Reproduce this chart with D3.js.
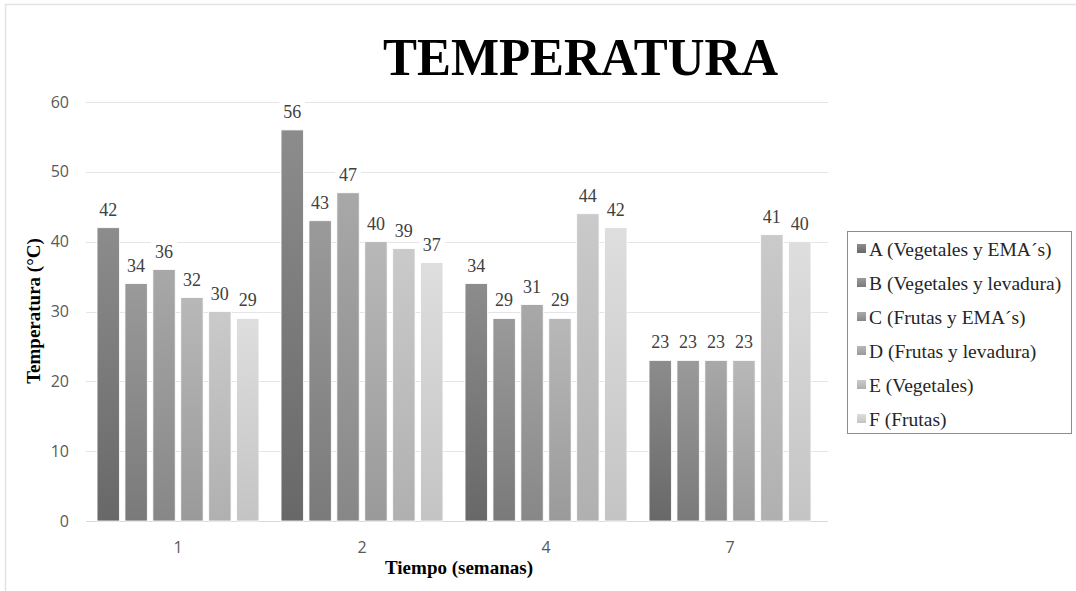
<!DOCTYPE html>
<html>
<head>
<meta charset="utf-8">
<script src="https://cdn.jsdelivr.net/npm/d3@7"></script>
<style>
  html, body { margin: 0; padding: 0; background: #fff; }
  svg { display: block; }
</style>
</head>
<body>
<svg id="chart" width="1076" height="591"></svg>
<script>
// Weeks on the x axis and the composting treatments shown as series
const weeks = ["1", "2", "4", "7"];
const seriesNames = [
  "A (Vegetales y EMA\u00B4s)",
  "B (Vegetales y levadura)",
  "C (Frutas y EMA\u00B4s)",
  "D (Frutas y levadura)",
  "E (Vegetales)",
  "F (Frutas)"
];
const seriesA = [42, 56, 34, 23];
const seriesB = [34, 43, 29, 23];
const seriesC = [36, 47, 31, 23];
const seriesD = [32, 40, 29, 23];
const seriesE = [30, 39, 44, 41];
const seriesF = [29, 37, 42, 40];
const yTicks = [0, 10, 20, 30, 40, 50, 60];

const seriesValues = [seriesA, seriesB, seriesC, seriesD, seriesE, seriesF];
// gradient stops per series: [bottom, top]
const shades = [
  ["#686868", "#8c8c8c"],
  ["#7a7a7a", "#9a9a9a"],
  ["#878787", "#a8a8a8"],
  ["#9a9a9a", "#b8b8b8"],
  ["#b0b0b0", "#cacaca"],
  ["#c4c4c4", "#dedede"]
];

const svg = d3.select("#chart");
const serif = "'Liberation Serif', 'Times New Roman', serif";
const sans = "'Open Sans', 'Liberation Sans', sans-serif";

// outer frame
svg.append("line").attr("x1", 5).attr("x2", 1076).attr("y1", 4.5).attr("y2", 4.5)
  .attr("stroke", "#e3e3e3").attr("stroke-width", 1.5);
svg.append("line").attr("x1", 5.5).attr("x2", 5.5).attr("y1", 4).attr("y2", 591)
  .attr("stroke", "#e3e3e3").attr("stroke-width", 1.5);

const defs = svg.append("defs");
shades.forEach((s, i) => {
  const g = defs.append("linearGradient").attr("id", "grad" + i)
    .attr("x1", 0).attr("y1", 1).attr("x2", 0).attr("y2", 0);
  g.append("stop").attr("offset", "0%").attr("stop-color", s[0]);
  g.append("stop").attr("offset", "100%").attr("stop-color", s[1]);
});

const plot = { left: 86, right: 822, top: 102, bottom: 521 };

const x0 = d3.scaleBand().domain(weeks).range([plot.left, plot.right]).paddingInner(0.12).paddingOuter(0.06);
const x1 = d3.scaleBand().domain(d3.range(seriesNames.length)).range([0, x0.bandwidth()]).paddingInner(0.2);
const y = d3.scaleLinear().domain([0, 60]).range([plot.bottom, plot.top]);

// gridlines
svg.append("g").selectAll("line").data(yTicks).join("line")
  .attr("x1", plot.left).attr("x2", plot.right + 6)
  .attr("y1", d => Math.round(y(d)) + 0.5).attr("y2", d => Math.round(y(d)) + 0.5)
  .attr("stroke", d => d === 0 ? "#d9d9d9" : "#e4e4ea").attr("stroke-width", 1);

// y tick labels
svg.append("g").selectAll("text").data(yTicks).join("text")
  .attr("x", 69).attr("y", d => y(d)).attr("dy", "0.35em")
  .attr("text-anchor", "end").attr("font-family", sans).attr("font-size", 16)
  .attr("fill", "#595959").text(d => d);

// x tick labels
svg.append("g").selectAll("text").data(weeks).join("text")
  .attr("x", d => x0(d) + x0.bandwidth() / 2).attr("y", 547).attr("dy", "0.35em")
  .attr("text-anchor", "middle").attr("font-family", sans).attr("font-size", 16)
  .attr("fill", "#595959").text(d => d);

// bars
const groups = svg.append("g").selectAll("g").data(weeks).join("g")
  .attr("transform", d => `translate(${x0(d)},0)`);

const cells = groups.selectAll("g").data((w, wi) => seriesValues.map((vals, si) => ({ si, v: vals[wi] })))
  .join("g");

cells.append("rect")
  .attr("x", d => x1(d.si)).attr("width", x1.bandwidth())
  .attr("y", d => y(d.v)).attr("height", d => y(0) - y(d.v))
  .attr("fill", d => `url(#grad${d.si})`)
  .attr("stroke", "#ffffff").attr("stroke-width", 0.8);

// value labels with white backing
cells.append("rect")
  .attr("x", d => x1(d.si) + x1.bandwidth() / 2 - 13).attr("width", 26)
  .attr("y", d => y(d.v) - 28).attr("height", 21).attr("fill", "#ffffff");
cells.append("text")
  .attr("x", d => x1(d.si) + x1.bandwidth() / 2).attr("y", d => y(d.v) - 12)
  .attr("text-anchor", "middle").attr("font-family", serif).attr("font-size", 18)
  .attr("fill", "#404040").text(d => d.v);

// title
svg.append("text").attr("x", 383).attr("y", 75)
  .attr("font-family", serif).attr("font-weight", "bold").attr("font-size", 53)
  .attr("textLength", 395).attr("lengthAdjust", "spacingAndGlyphs")
  .attr("fill", "#000").text("TEMPERATURA");

// axis titles
svg.append("text").attr("transform", "translate(40,311) rotate(-90)")
  .attr("text-anchor", "middle").attr("font-family", serif).attr("font-weight", "bold")
  .attr("font-size", 19).attr("fill", "#000").text("Temperatura (\u00B0C)");
svg.append("text").attr("x", 459).attr("y", 574).attr("text-anchor", "middle")
  .attr("font-family", serif).attr("font-weight", "bold")
  .attr("font-size", 19).attr("fill", "#000").text("Tiempo (semanas)");

// legend
const legend = svg.append("g");
legend.append("rect").attr("x", 847.5).attr("y", 231.5).attr("width", 224).attr("height", 202)
  .attr("fill", "#fff").attr("stroke", "#8c8c8c").attr("stroke-width", 1);
const items = legend.selectAll("g").data(seriesNames).join("g")
  .attr("transform", (d, i) => `translate(857,${249 + i * 34})`);
items.append("rect").attr("x", 0).attr("y", -5).attr("width", 9).attr("height", 9)
  .attr("fill", (d, i) => `url(#grad${i})`);
items.append("text").attr("x", 12).attr("y", 0).attr("dy", "0.35em")
  .attr("font-family", serif).attr("font-size", 19.5).attr("fill", "#262626").text(d => d);
</script>
</body>
</html>
